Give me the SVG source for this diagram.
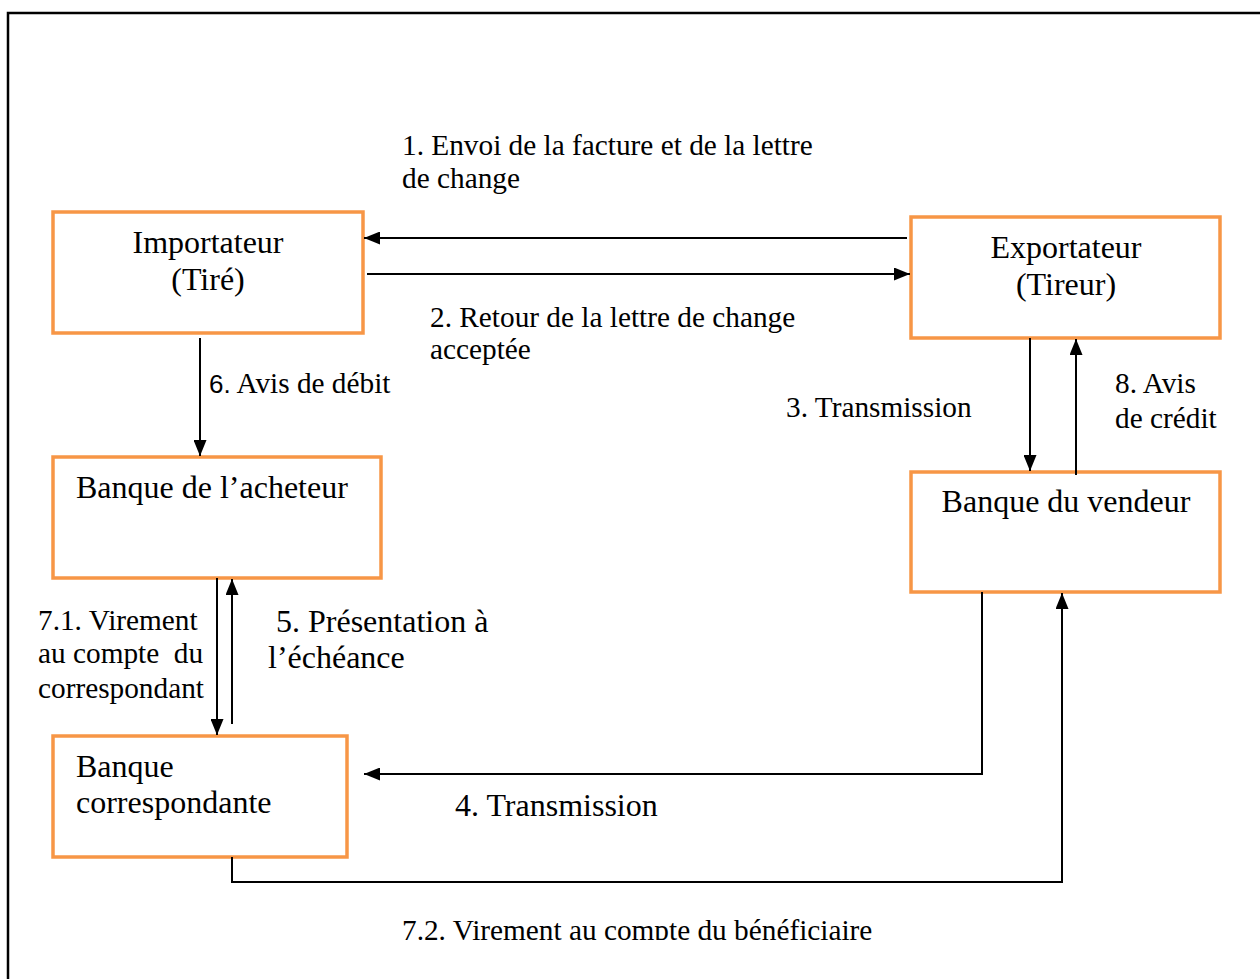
<svg xmlns="http://www.w3.org/2000/svg" width="1260" height="979" viewBox="0 0 1260 979">
<style>
.box{fill:#fff;stroke:#F79646;stroke-width:3.5}
.t{font-family:"Liberation Serif","Times New Roman",serif;fill:#000}
.n{font-size:32px}
.l{font-size:29.3px}
.c{fill:none;stroke:#000;stroke-width:2}
</style>
<defs>
<marker id="ah" viewBox="0 0 16 13" refX="16" refY="6.5" markerWidth="16" markerHeight="13" orient="auto" markerUnits="userSpaceOnUse"><path d="M0,0 L16,6.5 L0,13 Z" fill="#000"/></marker>
<clipPath id="clipb"><rect x="0" y="0" width="1260" height="940"/></clipPath>
</defs>
<rect x="0" y="0" width="1260" height="979" fill="#fff"/>
<path d="M8,990 V13 H1270" fill="none" stroke="#000" stroke-width="2.5"/>

<g id="importateur">
<rect class="box" x="53" y="212" width="310" height="121"/>
<text class="t n" x="208" y="253" text-anchor="middle">Importateur</text>
<text class="t n" x="208" y="290" text-anchor="middle">(Tiré)</text>
</g>
<g id="exportateur">
<rect class="box" x="911" y="217" width="309" height="121"/>
<text class="t n" x="1066" y="258" text-anchor="middle">Exportateur</text>
<text class="t n" x="1066" y="295" text-anchor="middle">(Tireur)</text>
</g>
<g id="banque-acheteur">
<rect class="box" x="53" y="457" width="328" height="121"/>
<text class="t n" x="76" y="498">Banque de l’acheteur</text>
</g>
<g id="banque-vendeur">
<rect class="box" x="911" y="472" width="309" height="120"/>
<text class="t n" x="1066" y="512" text-anchor="middle">Banque du vendeur</text>
</g>
<g id="banque-correspondante">
<rect class="box" x="53" y="736" width="294" height="121"/>
<text class="t n" x="76" y="777">Banque</text>
<text class="t n" x="76" y="813">correspondante</text>
</g>

<g id="connectors">
<line class="c" x1="907" y1="238" x2="364" y2="238" marker-end="url(#ah)"/>
<line class="c" x1="367" y1="274" x2="910" y2="274" marker-end="url(#ah)"/>
<line class="c" x1="200" y1="338" x2="200" y2="456" marker-end="url(#ah)"/>
<line class="c" x1="1030" y1="338" x2="1030" y2="471" marker-end="url(#ah)"/>
<line class="c" x1="1076" y1="475" x2="1076" y2="339" marker-end="url(#ah)"/>
<line class="c" x1="217" y1="578" x2="217" y2="735" marker-end="url(#ah)"/>
<line class="c" x1="232" y1="724" x2="232" y2="579" marker-end="url(#ah)"/>
<polyline class="c" points="982,592 982,774 364,774" marker-end="url(#ah)"/>
<polyline class="c" points="232,857 232,882 1062,882 1062,593" marker-end="url(#ah)"/>
</g>

<g id="labels">
<text class="t l" x="402" y="155">1. Envoi de la facture et de la lettre</text>
<text class="t l" x="402" y="188">de change</text>
<text class="t l" x="430" y="327">2. Retour de la lettre de change</text>
<text class="t l" x="430" y="359">acceptée</text>
<text class="t l" x="209" y="393"><tspan font-family="'Liberation Sans','Open Sans',sans-serif" font-size="26">6.</tspan> Avis de débit</text>
<text class="t l" x="786" y="417">3. Transmission</text>
<text class="t l" x="1115" y="393">8. Avis</text>
<text class="t l" x="1115" y="428">de crédit</text>
<text class="t l" x="38" y="630">7.1. Virement</text>
<text class="t l" x="38" y="663" xml:space="preserve">au compte  du</text>
<text class="t l" x="38" y="698">correspondant</text>
<text class="t n" x="276" y="632">5. Présentation à</text>
<text class="t n" x="268" y="668">l’échéance</text>
<text class="t n" x="455" y="816">4. Transmission</text>
<text class="t l" x="402" y="940" clip-path="url(#clipb)">7.2. Virement au compte du bénéficiaire</text>
</g>
</svg>
